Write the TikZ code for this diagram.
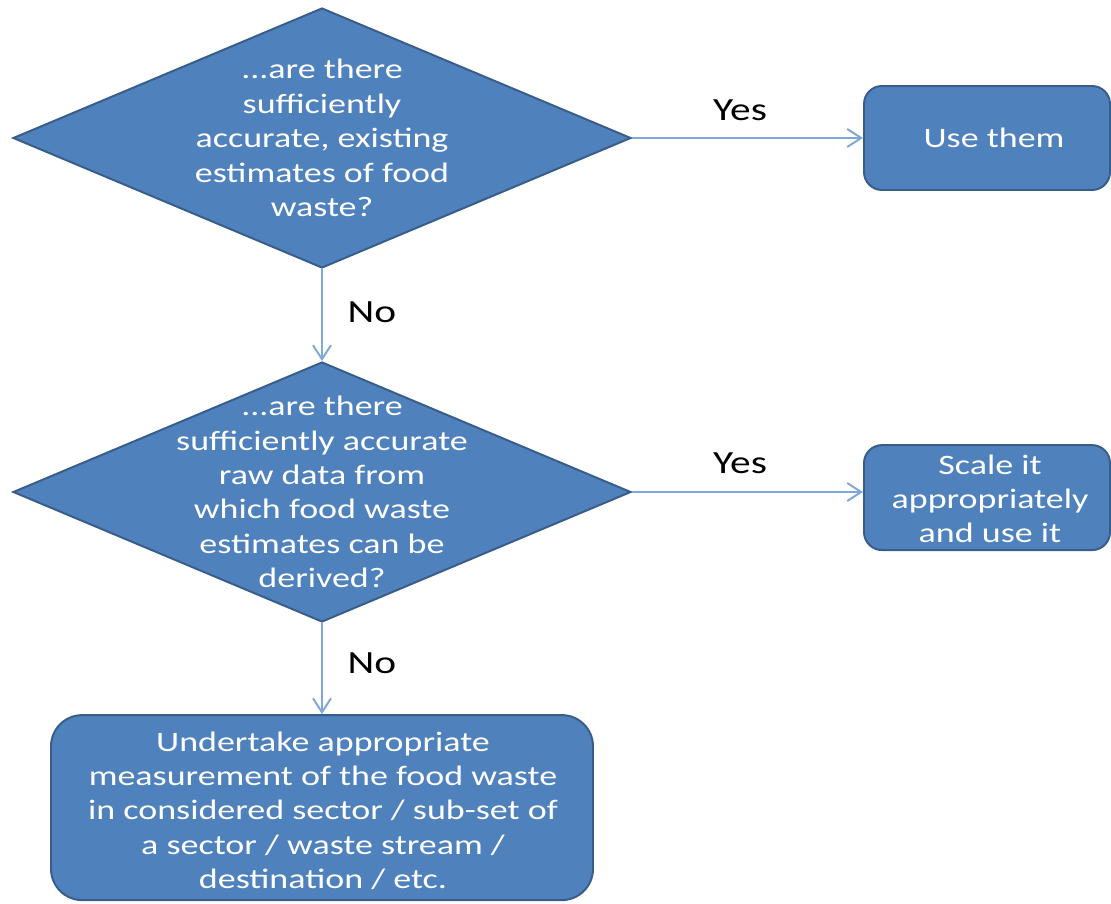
\documentclass[tikz,border=0pt]{standalone}
\usepackage{fontspec}
\usetikzlibrary{shapes.geometric,arrows.meta}
\newfontfamily\chartfont{Carlito}[FakeStretch=1.28]
\definecolor{boxblue}{HTML}{4F81BD}
\definecolor{boxedge}{HTML}{385D8A}
\definecolor{linkblue}{HTML}{7FA7D9}

\begin{document}
\begin{tikzpicture}[
        decision/.style={diamond,draw=boxedge,fill=boxblue,line width=1.4pt,
                inner sep=0pt,minimum width=15.45cm,minimum height=6.5cm},
        outcome/.style={rectangle,draw=boxedge,fill=boxblue,line width=1.4pt,
                rounded corners=0.45cm,inner sep=0pt},
        txt/.style={text=white,align=center,
                font=\chartfont\fontsize{20}{24.5}\selectfont},
        answer/.style={text=black,font=\chartfont\fontsize{23}{27}\selectfont},
        link/.style={draw=linkblue,line width=1.4pt,
                -{Straight Barb[length=3.5mm,width=4.5mm]}}]
    \useasboundingbox (0,0) rectangle (27.775,-22.575);

    % the two questions
    \node[decision] (Q1) at (8.05,-3.45) {};
    \node[txt] (T1) at (Q1) {...are there\\sufficiently\\accurate, existing\\estimates of food\\waste?};
    \node[decision] (Q2) at (8.05,-12.3) {};
    \node[txt] (T2) at (Q2) {...are there\\sufficiently accurate\\raw data from\\which food waste\\estimates can be\\derived?};

    % outcomes
    \node[outcome,minimum width=6.15cm,minimum height=2.6cm] (U) at (24.675,-3.45) {};
    \node[txt] (TU) at (24.85,-3.45) {Use them};
    \node[outcome,minimum width=6.15cm,minimum height=2.625cm] (S) at (24.675,-12.44) {};
    \node[txt] (TS) at (24.75,-12.47) {Scale it\\appropriately\\and use it};
    \node[outcome,rounded corners=0.78cm,minimum width=13.55cm,minimum height=4.625cm] (M) at (8.05,-20.19) {};
    \node[txt] (TM) at (8.075,-20.27) {Undertake appropriate\\measurement of the food waste\\in considered sector / sub-set of\\a sector / waste stream /\\destination / etc.};

    % connectors
    \draw[link] (Q1.east) -- (U.west);
    \draw[link] (Q1.south) -- (Q2.north);
    \draw[link] (Q2.east) -- (Q2.east -| S.west);
    \draw[link] (Q2.south) -- (M.north);

    \node[answer] (Y1) at (18.5,-2.75) {Yes};
    \node[answer] (N1) at (9.3,-7.8) {No};
    \node[answer] (Y2) at (18.5,-11.575) {Yes};
    \node[answer] (N2) at (9.3,-16.575) {No};
\end{tikzpicture}
\end{document}
